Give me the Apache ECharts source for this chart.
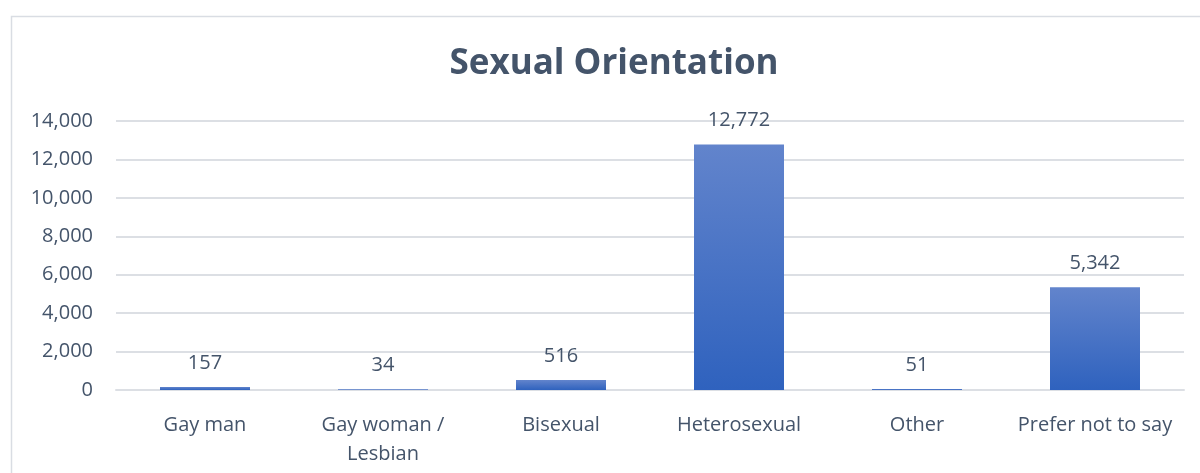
<!DOCTYPE html>
<html>
<head>
<meta charset="utf-8">
<script src="https://cdn.jsdelivr.net/npm/echarts@6/dist/echarts.min.js"></script>
<style>
  * { margin: 0; padding: 0; }
  html, body { width: 1200px; height: 473px; background: #fff; overflow: hidden; }
  #main { width: 1200px; height: 473px; }
</style>
</head>
<body>
<div id="main"></div>
<script>
// chart data
var categories = ['Gay man', 'Gay woman /\nLesbian', 'Bisexual', 'Heterosexual', 'Other', 'Prefer not to say']
var counts = [157, 34, 516, 12772, 51, 5342]

var textColor = '#44546a'
var fontFamily = '"Open Sans", "Noto Sans", sans-serif'

var myChart = echarts.init(document.getElementById('main'))

var option = {
  animation: false,
  graphic: [{
    type: 'rect',
    shape: { x: 11.5, y: 16.5, width: 1250, height: 520 },
    style: { fill: 'none', stroke: '#d9dde3', lineWidth: 1.5 },
    silent: true
  }],
  title: {
    text: 'Sexual Orientation',
    left: 609,
    textAlign: 'center',
    top: 42,
    textStyle: { color: textColor, fontSize: 35, fontWeight: 'bold', fontFamily: fontFamily }
  },
  grid: { left: 116, right: 16, top: 121, bottom: 83, containLabel: false },
  xAxis: {
    type: 'category',
    data: categories,
    axisLine: { show: true, lineStyle: { color: '#dcdfe4', width: 2 } },
    axisTick: { show: false },
    axisLabel: {
      color: textColor,
      fontSize: 20,
      fontFamily: fontFamily,
      margin: 21,
      lineHeight: 29,
      interval: 0
    }
  },
  yAxis: {
    type: 'value',
    min: 0,
    max: 14000,
    interval: 2000,
    axisLine: { show: false },
    axisTick: { show: false },
    axisLabel: {
      color: textColor,
      fontSize: 20,
      fontFamily: fontFamily,
      margin: 23,
      formatter: function (v) { return v.toLocaleString('en-US') }
    },
    splitLine: { lineStyle: { color: '#dcdfe4', width: 2 } }
  },
  series: [{
    type: 'bar',
    data: counts,
    barWidth: 90,
    itemStyle: {
      color: new echarts.graphic.LinearGradient(0, 0, 0, 1, [
        { offset: 0, color: '#6284cc' },
        { offset: 1, color: '#2f62be' }
      ])
    },
    label: {
      show: true,
      position: 'top',
      distance: 14,
      color: textColor,
      fontSize: 20,
      fontFamily: fontFamily,
      formatter: function (p) { return p.value.toLocaleString('en-US') }
    }
  }]
}

myChart.setOption(option)
</script>
</body>
</html>
